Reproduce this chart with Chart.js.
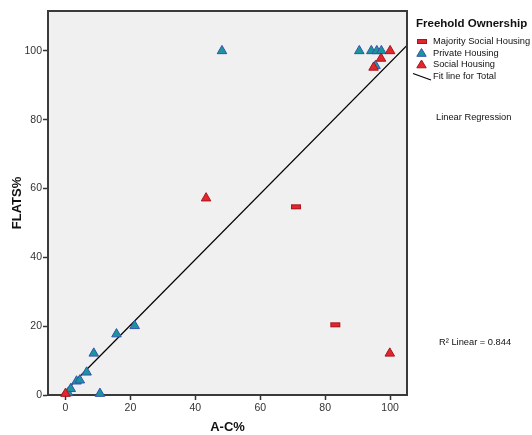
<!DOCTYPE html>
<html>
<head>
<meta charset="utf-8">
<script src="https://cdn.jsdelivr.net/npm/chart.js@4/dist/chart.umd.min.js"></script>
<style>
html,body{margin:0;padding:0;background:#fff;}
canvas{display:block;}
</style>
</head>
<body>
<canvas id="c" width="532" height="435"></canvas>
<script>
// ---- data ----
const majoritySocial = [
  {x: 71.0, y: 54.7},
  {x: 83.1, y: 20.4}
];
const privateHousing = [
  {x: 48.2, y: 100}, {x: 90.5, y: 100}, {x: 94.2, y: 100}, {x: 95.9, y: 100}, {x: 97.3, y: 100},
  {x: 95.5, y: 95.7},
  {x: 0.8, y: 0.6}, {x: 1.6, y: 1.8}, {x: 3.4, y: 4.0}, {x: 4.4, y: 4.3}, {x: 6.5, y: 6.6},
  {x: 8.7, y: 12.1}, {x: 10.6, y: 0.4}, {x: 15.7, y: 17.7}, {x: 21.3, y: 20.1}
];
const socialHousing = [
  {x: 0.0, y: 0.4}, {x: 43.3, y: 57.2}, {x: 94.9, y: 95.2}, {x: 97.2, y: 97.8},
  {x: 100, y: 100}, {x: 99.9, y: 12.1}
];
const fitLineTotal = [{x: -1.25, y: 0}, {x: 105.2, y: 101.6}];
const xTicks = [0, 20, 40, 60, 80, 100];
const yTicks = [0, 20, 40, 60, 80, 100];
const legendTitle = "Freehold Ownership";
const legendLabels = ["Majority Social Housing", "Private Housing", "Social Housing", "Fit line for Total"];
const regressionLabel = "Linear Regression";
const r2Label = "R\u00B2 Linear = 0.844";

const RED = '#e3262d', RED_EDGE = '#a8151c';
const TEAL = '#17979c', TEAL_EDGE = '#3552b0';

function rectMarker(w, h) {
  const c = document.createElement('canvas');
  c.width = w + 2; c.height = h + 2;
  const g = c.getContext('2d');
  g.fillStyle = RED; g.fillRect(1, 1, w, h);
  g.strokeStyle = RED_EDGE; g.lineWidth = 1; g.strokeRect(1.5, 1.5, w - 1, h - 1);
  return c;
}
const rectImg = rectMarker(10, 5);

const framePlugin = {
  id: 'frame',
  beforeDraw(chart) {
    const {ctx, chartArea: a} = chart;
    ctx.save();
    ctx.fillStyle = '#f0f0f0';
    ctx.fillRect(a.left, a.top, a.right - a.left, a.bottom - a.top);
    ctx.restore();
  },
  afterDraw(chart) {
    const {ctx, chartArea: a} = chart;
    ctx.save();
    ctx.strokeStyle = '#3a3a3a';
    ctx.lineWidth = 2;
    ctx.beginPath();
    ctx.moveTo(a.left, a.top); ctx.lineTo(a.right, a.top); ctx.lineTo(a.right, a.bottom);
    ctx.stroke();
    // legend
    ctx.fillStyle = '#111';
    ctx.textBaseline = 'alphabetic';
    ctx.font = 'bold 11.5px "Liberation Sans", Arial, sans-serif';
    ctx.fillText(legendTitle, 416, 27);
    ctx.font = '9.3px "Liberation Sans", Arial, sans-serif';
    ctx.textBaseline = 'middle';
    const ys = [41.5, 53, 64.5, 76.5];
    legendLabels.forEach((t, i) => ctx.fillText(t, 433, ys[i]));
    ctx.drawImage(rectImg, 416, ys[0] - 3.5);
    const tri = (cx, cy, fill, edge) => {
      ctx.beginPath();
      ctx.moveTo(cx, cy - 4.5); ctx.lineTo(cx + 4.7, cy + 3.3); ctx.lineTo(cx - 4.7, cy + 3.3); ctx.closePath();
      ctx.fillStyle = fill; ctx.fill(); ctx.strokeStyle = edge; ctx.lineWidth = 1; ctx.stroke();
    };
    tri(421.5, ys[1], TEAL, TEAL_EDGE);
    tri(421.5, ys[2], RED, RED_EDGE);
    ctx.beginPath(); ctx.moveTo(413, 73.5); ctx.lineTo(431, 80); ctx.strokeStyle = '#000'; ctx.lineWidth = 1.2; ctx.stroke();
    ctx.fillStyle = '#111';
    ctx.fillText(regressionLabel, 436, 117);
    ctx.fillText(r2Label, 439, 342);
    ctx.restore();
  }
};

new Chart(document.getElementById('c'), {
  type: 'scatter',
  data: {
    datasets: [
      {label: legendLabels[2], data: socialHousing, order: 0, pointStyle: 'triangle', radius: 5.5, clip: false,
       backgroundColor: RED, borderColor: RED_EDGE, borderWidth: 1},
      {label: legendLabels[1], data: privateHousing, order: 1, pointStyle: 'triangle', radius: 5.5, clip: false,
       backgroundColor: TEAL, borderColor: TEAL_EDGE, borderWidth: 1},
      {label: legendLabels[0], data: majoritySocial, order: 2, pointStyle: rectImg, radius: 5, clip: false,
       backgroundColor: RED, borderColor: RED_EDGE},
      {label: legendLabels[3], data: fitLineTotal, order: 3, type: 'line', showLine: true, pointRadius: 0,
       borderColor: '#000', borderWidth: 1.3, fill: false, tension: 0}
    ]
  },
  options: {
    responsive: false,
    animation: false,
    devicePixelRatio: 1,
    layout: {padding: {top: 11, right: 125, left: 0, bottom: 0}},
    plugins: {legend: {display: false}, tooltip: {enabled: false}},
    scales: {
      x: {
        type: 'linear', min: -5.4, max: 105.2,
        afterFit(s) { s.height = 40; },
        afterBuildTicks(s) { s.ticks = xTicks.map(v => ({value: v})); },
        ticks: {includeBounds: false, padding: 2, color: '#333', font: {family: '"Liberation Sans", Arial, sans-serif', size: 10.5}, maxRotation: 0},
        grid: {display: true, drawOnChartArea: false, drawTicks: true, tickLength: 5, tickColor: '#333', tickWidth: 1.5},
        border: {display: true, color: '#3a3a3a', width: 2},
        title: {display: true, text: 'A-C%', color: '#111', padding: {top: 0, bottom: 0},
                font: {family: '"Liberation Sans", Arial, sans-serif', size: 13, weight: 'bold'}}
      },
      y: {
        type: 'linear', min: 0, max: 111.6,
        afterFit(s) { s.width = 48; },
        afterBuildTicks(s) { s.ticks = yTicks.map(v => ({value: v})); },
        ticks: {includeBounds: false, padding: 1, color: '#333', font: {family: '"Liberation Sans", Arial, sans-serif', size: 10.5}},
        grid: {display: true, drawOnChartArea: false, drawTicks: true, tickLength: 5, tickColor: '#333', tickWidth: 1.5},
        border: {display: true, color: '#3a3a3a', width: 2},
        title: {display: true, text: 'FLATS%', color: '#111', padding: {top: 10, bottom: 0},
                font: {family: '"Liberation Sans", Arial, sans-serif', size: 13, weight: 'bold'}}
      }
    }
  },
  plugins: [framePlugin]
});
</script>
</body>
</html>
